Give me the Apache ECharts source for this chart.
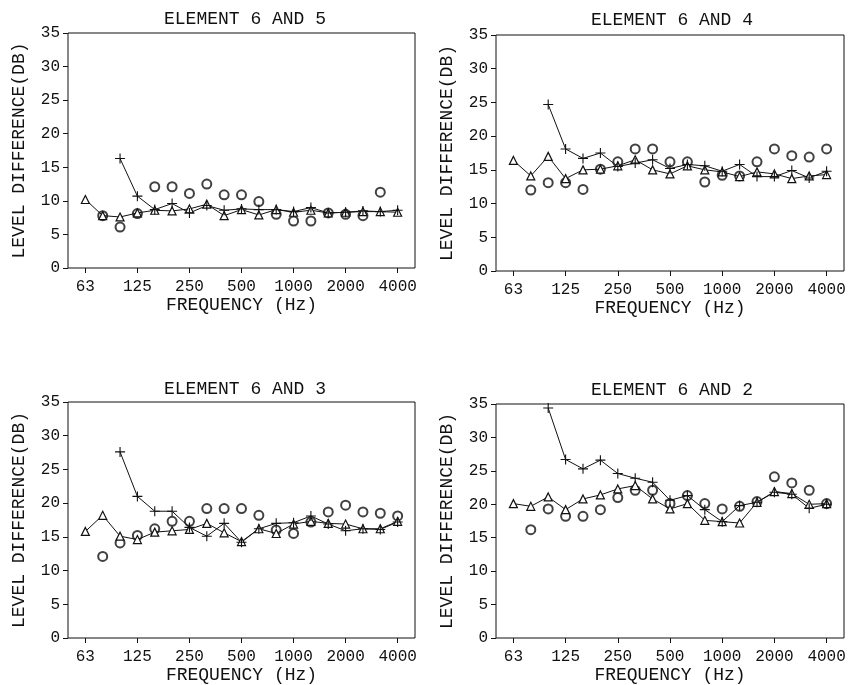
<!DOCTYPE html>
<html>
<head>
<meta charset="utf-8">
<script src="https://cdn.jsdelivr.net/npm/echarts@6/dist/echarts.min.js"></script>
<style>
  html, body { margin: 0; padding: 0; background: #fff; }
  #chart { width: 851px; height: 685px; }
</style>
</head>
<body>
<div id="chart"></div>
<script>
// 1/3 octave bands, 63 Hz .. 4000 Hz (index 0..18)
const bands = ['63', '80', '100', '125', '160', '200', '250', '315', '400', '500', '630', '800', '1000', '1250', '1600', '2000', '2500', '3150', '4000']
const octaveIdx = [0, 3, 6, 9, 12, 15, 18]

const titles = ['ELEMENT 6 AND 5', 'ELEMENT 6 AND 4', 'ELEMENT 6 AND 3', 'ELEMENT 6 AND 2']

// triangles (line)
const tri65 = [10.2, 7.8, 7.6, 8.2, 8.6, 8.5, 8.8, 9.5, 7.8, 8.7, 7.9, 8.7, 8.3, 8.6, 8.2, 8.3, 8.4, 8.4, 8.3]
const tri64 = [16.4, 14.1, 17.0, 13.7, 15.0, 15.1, 15.6, 16.5, 15.0, 14.4, 15.6, 15.0, 14.7, 14.0, 14.7, 14.4, 13.7, 14.1, 14.3]
const tri63 = [15.8, 18.2, 15.1, 14.6, 15.7, 15.9, 16.1, 17.0, 15.6, 14.3, 16.2, 15.5, 16.9, 17.3, 17.0, 16.9, 16.2, 16.2, 17.3]
const tri62 = [20.1, 19.7, 21.1, 19.2, 20.8, 21.4, 22.3, 22.8, 20.8, 19.3, 20.1, 17.6, 17.4, 17.2, 20.3, 21.9, 21.6, 20.0, 20.1]

// plus (line), starts at 100 Hz
const plus65 = [null, null, 16.3, 10.7, 8.7, 9.6, 8.2, 9.3, 8.6, 8.8, 8.7, 8.7, 8.4, 9.0, 8.2, 8.3, 8.5, 8.4, 8.6]
const plus64 = [null, null, 24.7, 18.1, 16.7, 17.5, 15.5, 16.0, 16.5, 15.2, 15.8, 15.6, 14.8, 15.8, 14.0, 14.0, 14.9, 13.8, 14.8]
const plus63 = [null, null, 27.6, 21.0, 18.8, 18.8, 16.4, 15.1, 17.0, 14.2, 16.2, 17.0, 17.1, 18.1, 16.9, 15.9, 16.2, 16.1, 17.2]
const plus62 = [null, null, 34.4, 26.7, 25.3, 26.6, 24.6, 23.9, 23.3, 20.6, 21.3, 19.2, 17.4, 19.8, 20.3, 21.8, 21.5, 19.4, 20.0]

// circles (points only)
const circ65 = [null, 7.8, 6.1, 8.1, 12.1, 12.1, 11.1, 12.5, 10.9, 10.9, 9.9, 8.0, 7.0, 7.0, 8.2, 8.0, 7.8, 11.3, null]
const circ64 = [null, 12.0, 13.1, 13.1, 12.1, 15.1, 16.2, 18.1, 18.1, 16.2, 16.2, 13.2, 14.2, 14.1, 16.2, 18.1, 17.1, 16.9, 18.1]
const circ63 = [null, 12.1, 14.1, 15.2, 16.2, 17.3, 17.3, 19.2, 19.2, 19.2, 18.2, 16.0, 15.5, 17.2, 18.7, 19.7, 18.7, 18.5, 18.1]
const circ62 = [null, 16.2, 19.3, 18.2, 18.2, 19.2, 21.0, 22.1, 22.1, 20.1, 21.3, 20.1, 19.3, 19.7, 20.4, 24.1, 23.2, 22.1, 20.1]

const panels = [
  { tri: tri65, plus: plus65, circ: circ65 },
  { tri: tri64, plus: plus64, circ: circ64 },
  { tri: tri63, plus: plus63, circ: circ63 },
  { tri: tri62, plus: plus62, circ: circ62 }
]

const mono = "'Liberation Mono', 'DejaVu Sans Mono', monospace"
const plusPath = 'path://M4,0H5V4H9V5H5V9H4V5H0V4H4Z'

const grids = [
  { left: 68, right: 436, top: 33, bottom: 417 },
  { left: 496, right: 7, top: 35, bottom: 414 },
  { left: 68, right: 436, top: 402, bottom: 46 },
  { left: 496, right: 7, top: 404, bottom: 45 }
]
const titlePos = [
  { x: 240, y: 5 }, { x: 667, y: 6 }, { x: 240, y: 375 }, { x: 667, y: 376 }
]

const toPairs = arr => arr.map((v, i) => (v == null ? null : [i, v])).filter(p => p)

const chart = echarts.init(document.getElementById('chart'))

const option = {
  backgroundColor: '#fff',
  animation: false,
  title: titles.map((t, i) => ({
    text: t,
    left: titlePos[i].x,
    top: titlePos[i].y,
    textAlign: 'center',
    textStyle: { fontFamily: mono, fontSize: 18, fontWeight: 'normal', color: '#111' }
  })),
  grid: grids.map(g => ({ ...g, show: true, borderColor: '#111', borderWidth: 1, containLabel: false })),
  xAxis: grids.map((g, i) => ({
    type: 'value',
    gridIndex: i,
    min: -1,
    max: 19,
    name: 'FREQUENCY (Hz)',
    nameLocation: 'middle',
    nameGap: 28,
    nameTextStyle: { fontFamily: mono, fontSize: 18, color: '#111' },
    axisLine: { show: false, onZero: false },
    splitLine: { show: false },
    axisTick: { show: true, inside: false, length: 5, customValues: octaveIdx, lineStyle: { color: '#111' } },
    axisLabel: {
      customValues: octaveIdx,
      formatter: v => bands[v],
      margin: 11,
      fontFamily: mono,
      fontSize: 16,
      color: '#111'
    }
  })),
  yAxis: grids.map((g, i) => ({
    type: 'value',
    gridIndex: i,
    min: 0,
    max: 35,
    interval: 5,
    name: 'LEVEL DIFFERENCE(DB)',
    nameLocation: 'middle',
    nameRotate: 90,
    nameGap: 40,
    nameTextStyle: { fontFamily: mono, fontSize: 18, color: '#111' },
    axisLine: { show: false, onZero: false },
    splitLine: { show: false },
    axisTick: { show: true, inside: false, length: 5, lineStyle: { color: '#111' } },
    axisLabel: { margin: 8, fontFamily: mono, fontSize: 16, color: '#111' }
  })),
  series: panels.flatMap((p, i) => [
    {
      type: 'line',
      xAxisIndex: i,
      yAxisIndex: i,
      data: toPairs(p.tri),
      symbol: 'triangle',
      symbolSize: 8,
      lineStyle: { color: '#111', width: 1 },
      itemStyle: { color: '#fff', borderColor: '#111', borderWidth: 1.2 }
    },
    {
      type: 'line',
      xAxisIndex: i,
      yAxisIndex: i,
      data: toPairs(p.plus),
      symbol: plusPath,
      symbolSize: 10,
      showAllSymbol: true,
      lineStyle: { color: '#111', width: 1 },
      itemStyle: { color: '#111' }
    },
    {
      type: 'scatter',
      xAxisIndex: i,
      yAxisIndex: i,
      data: toPairs(p.circ),
      symbol: 'emptyCircle',
      symbolSize: 9,
      itemStyle: { color: '#111', borderColor: '#111', borderWidth: 1.2 }
    }
  ])
}

chart.setOption(option)
</script>
</body>
</html>
